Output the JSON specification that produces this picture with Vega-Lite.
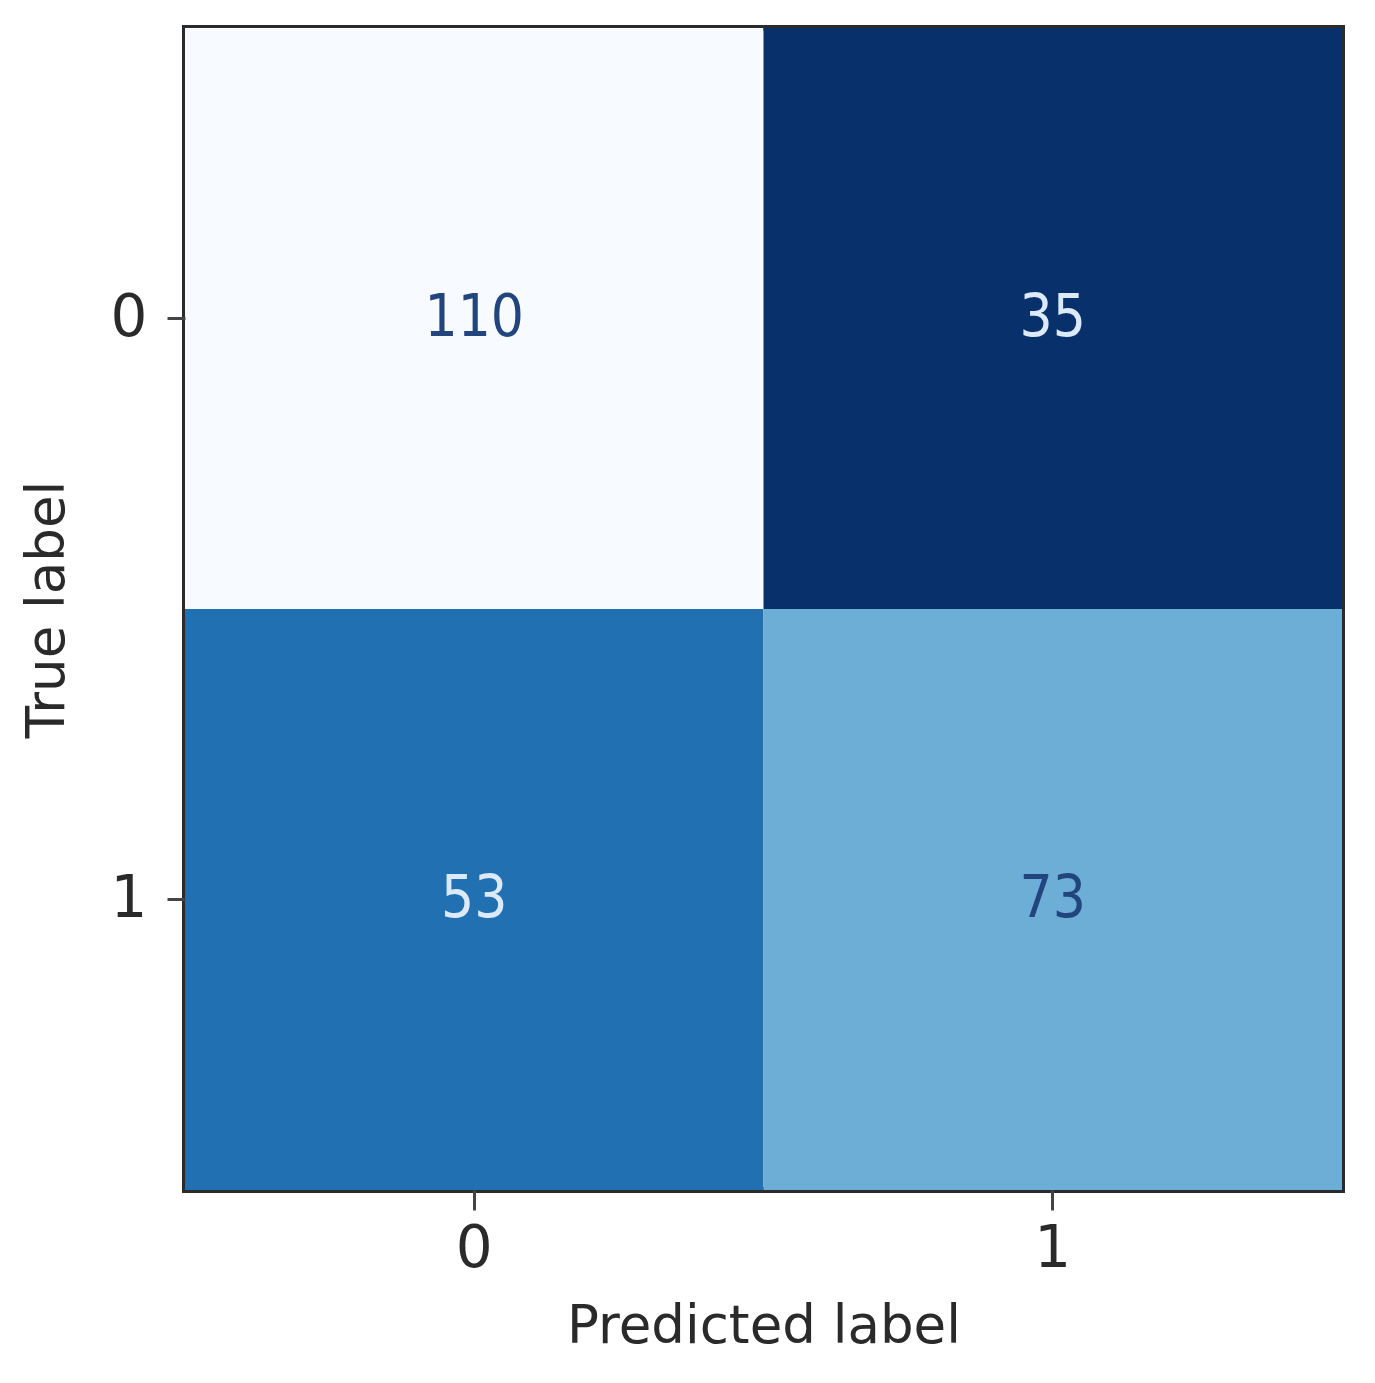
{
  "$schema": "https://vega.github.io/schema/vega-lite/v6.json",
  "width": 1157,
  "height": 1162,
  "autosize": {"type": "none"},
  "padding": {"left": 185, "top": 28, "right": 33, "bottom": 193},
  "background": "white",
  "data": {
    "values": [
      {"true": "0", "pred": "0", "count": 110},
      {"true": "0", "pred": "1", "count": 35},
      {"true": "1", "pred": "0", "count": 53},
      {"true": "1", "pred": "1", "count": 73}
    ]
  },
  "encoding": {
    "x": {
      "field": "pred", "type": "ordinal", "title": "Predicted label",
      "scale": {"paddingInner": 0, "paddingOuter": 0},
      "axis": {"labelAngle": 0, "labelFontSize": 58, "titleFontSize": 53, "labelFont": "DejaVu Sans", "titleFont": "DejaVu Sans", "titleFontWeight": "normal", "labelColor": "#2a2a2a", "titleColor": "#2a2a2a", "tickSize": 20, "tickWidth": 3, "tickColor": "#444", "domain": false, "labelPadding": 10, "titlePadding": 22}
    },
    "y": {
      "field": "true", "type": "ordinal", "title": "True label",
      "scale": {"paddingInner": 0, "paddingOuter": 0},
      "axis": {"labelFontSize": 58, "titleFontSize": 53, "labelFont": "DejaVu Sans", "titleFont": "DejaVu Sans", "titleFontWeight": "normal", "labelColor": "#2a2a2a", "titleColor": "#2a2a2a", "tickSize": 18, "tickWidth": 3, "tickColor": "#444", "domain": false, "labelPadding": 20, "titlePadding": 36}
    }
  },
  "layer": [
    {
      "mark": {"type": "rect"},
      "encoding": {
        "color": {
          "field": "count", "type": "ordinal", "legend": null,
          "scale": {"domain": [110, 35, 53, 73], "range": ["#f7fbff", "#08306b", "#2070b2", "#6caed6"]}
        }
      }
    },
    {
      "mark": {"type": "text", "fontSize": 58, "font": "DejaVu Sans Condensed, DejaVu Sans"},
      "encoding": {
        "text": {"field": "count", "type": "quantitative"},
        "color": {"condition": {"test": "datum['count'] < 60", "value": "#dce9f8"}, "value": "#22457e"}
      }
    }
  ],
  "config": {
    "view": {"stroke": "#2b2b2b", "strokeWidth": 6}
  }
}
